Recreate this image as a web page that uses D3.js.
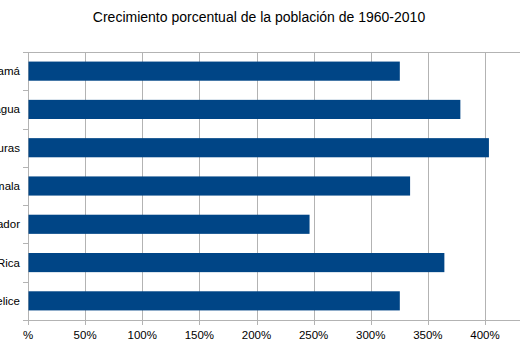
<!DOCTYPE html>
<html><head><meta charset="utf-8">
<script src="https://cdn.jsdelivr.net/npm/d3@7"></script>
<style>html,body{margin:0;padding:0;background:#fff;overflow:hidden}svg{display:block}</style>
</head><body>
<script>
const title = "Crecimiento porcentual de la población de 1960-2010";
const categories = ["Panamá","Nicaragua","Honduras","Guatemala","El Salvador","Costa Rica","Belice"];
const values = [325, 378, 403, 334, 246, 364, 325];
const tickValues = [0,50,100,150,200,250,300,350,400,450];
const tickLabels = ["%","50%","100%","150%","200%","250%","300%","350%","400%","450%"];

(function(){
const W = 520, H = 359;
const svg = d3.select("body").append("svg").attr("width", W).attr("height", H)
  .style("font-family", "'Liberation Sans', Arial, sans-serif");

const mLeft = 28, mTop = 52, mBottom = 320;
const x = d3.scaleLinear().domain([0, 450]).range([mLeft, mLeft + 457 * 450 / 400]);
const y = d3.scaleBand().domain(categories).range([mTop, mBottom]).paddingInner(0.5).paddingOuter(0.25);

svg.append("text").attr("x", 259).attr("y", 22).attr("text-anchor", "middle")
  .attr("font-size", 14).attr("fill", "#000").text(title);

const grid = "#b3b3b3";
svg.append("g").selectAll("line").data(tickValues).join("line")
  .attr("x1", d => Math.round(x(d)) + 0.5).attr("x2", d => Math.round(x(d)) + 0.5)
  .attr("y1", mTop).attr("y2", mBottom + 5)
  .attr("stroke", grid).attr("stroke-width", 1);
svg.append("line").attr("x1", mLeft - 5).attr("x2", W).attr("y1", mTop + 0.5).attr("y2", mTop + 0.5)
  .attr("stroke", grid);
svg.append("line").attr("x1", mLeft - 5).attr("x2", W).attr("y1", mBottom + 0.5).attr("y2", mBottom + 0.5)
  .attr("stroke", grid);
const bounds = d3.range(categories.length + 1).map(i => mTop + (mBottom - mTop) * i / categories.length);
svg.append("g").selectAll("line").data(bounds).join("line")
  .attr("x1", mLeft - 5).attr("x2", mLeft).attr("y1", d => Math.round(d) + 0.5).attr("y2", d => Math.round(d) + 0.5)
  .attr("stroke", grid);

svg.append("g").selectAll("rect").data(categories).join("rect")
  .attr("x", x(0) + 0.5).attr("y", d => y(d))
  .attr("width", (d, i) => x(values[i]) - x(0))
  .attr("height", y.bandwidth())
  .attr("fill", "#004586");

svg.append("g").selectAll("text").data(categories).join("text")
  .attr("x", 20).attr("y", d => y(d) + y.bandwidth() / 2).attr("dy", "0.35em")
  .attr("text-anchor", "end").attr("font-size", 11.5).attr("fill", "#000").text(d => d);

svg.append("g").selectAll("text").data(tickValues).join("text")
  .attr("x", d => x(d)).attr("y", 339)
  .attr("text-anchor", "middle").attr("font-size", 11.5).attr("fill", "#000")
  .text((d, i) => tickLabels[i]);
})();
</script>
</body></html>
